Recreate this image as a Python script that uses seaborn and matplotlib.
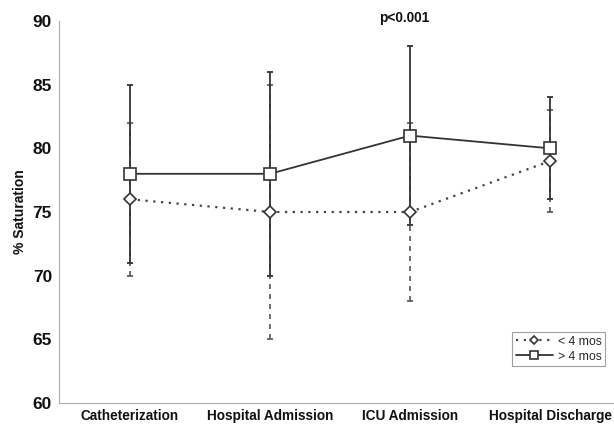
import numpy as np
import matplotlib
matplotlib.use("Agg")
import matplotlib.pyplot as plt
import pandas as pd
import seaborn as sns

# data
stages = ['Catheterization', 'Hospital Admission', 'ICU Admission', 'Hospital Discharge']
young_mean = [76, 75, 75, 79]   # < 4 mos
young_sd = [6, 10, 7, 4]
old_mean = [78, 78, 81, 80]     # > 4 mos
old_sd = [7, 8, 7, 4]
yticks = [60, 65, 70, 75, 80, 85, 90]

sns.set_style("white")
plt.rcParams['font.family'] = ['Liberation Sans', 'DejaVu Sans']
plt.rcParams['font.weight'] = 'bold'

pos = np.arange(len(stages))
df = pd.DataFrame({
    'pos': np.concatenate([pos, pos]),
    'mean': young_mean + old_mean,
    'group': ['< 4 mos'] * 4 + ['> 4 mos'] * 4,
})

fig = plt.figure(figsize=(6.14, 4.28), dpi=100)
ax = fig.add_axes([59 / 614, 25 / 428, 555 / 614, 382 / 428])

c = '#333333'
# error bars: < 4 mos dashed, drawn first
eb = ax.errorbar(pos, young_mean, yerr=young_sd, fmt='none', ecolor='#555555',
                 elinewidth=1.2, capsize=2.5, capthick=1.2, zorder=1)
eb[2][0].set_linestyle((0, (3, 3)))
ax.errorbar(pos, old_mean, yerr=old_sd, fmt='none', ecolor=c,
            elinewidth=1.3, capsize=2.5, capthick=1.3, zorder=2)

sns.lineplot(data=df[df['group'] == '< 4 mos'], x='pos', y='mean', ax=ax,
             color='#444444', linestyle=(0, (1, 2.5)), linewidth=1.6,
             marker='D', markersize=6.5, markerfacecolor='white',
             markeredgecolor=c, markeredgewidth=1.2, label='< 4 mos', zorder=3)
sns.lineplot(data=df[df['group'] == '> 4 mos'], x='pos', y='mean', ax=ax,
             color=c, linestyle='-', linewidth=1.3,
             marker='s', markersize=8, markerfacecolor='white',
             markeredgecolor=c, markeredgewidth=1.2, label='> 4 mos', zorder=4)

ax.set_xlim(-0.507, 3.457)
ax.set_ylim(60, 90)
ax.set_yticks(yticks)
ax.set_yticklabels([str(v) for v in yticks], fontsize=12.5, fontweight='bold',
                   color='#111111')
ax.set_xticks(pos)
ax.set_xticklabels(stages, fontsize=9.8, fontweight='bold', color='#111111')
ax.set_xticks([0.5, 1.5, 2.5], minor=True)
ax.tick_params(axis='x', which='major', length=0, pad=4)
ax.tick_params(axis='x', which='minor', length=3, color='#aaaaaa', direction='in')
ax.tick_params(axis='y', length=3, color='#aaaaaa', pad=2)
ax.set_xlabel('')
ax.set_ylabel('% Saturation', fontsize=10, fontweight='bold', labelpad=4,
              color='#111111')

for s in ['top', 'right']:
    ax.spines[s].set_visible(False)
for s in ['left', 'bottom']:
    ax.spines[s].set_color('#aaaaaa')
    ax.spines[s].set_linewidth(0.8)

ax.text(1.96, 90.2, 'p<0.001', ha='center', va='center', fontsize=9.8,
        fontweight='bold', color='#111111')

leg = ax.legend(loc='lower right', bbox_to_anchor=(0.995, 0.08), fontsize=8.8,
                frameon=True, fancybox=False, handlelength=3.0, handletextpad=0.4,
                borderpad=0.3, labelspacing=0.25, markerscale=0.7)
leg.get_frame().set_edgecolor('#888888')
leg.get_frame().set_linewidth(0.8)
for t in leg.get_texts():
    t.set_fontweight('normal')

fig.savefig('out.png', dpi=100)
